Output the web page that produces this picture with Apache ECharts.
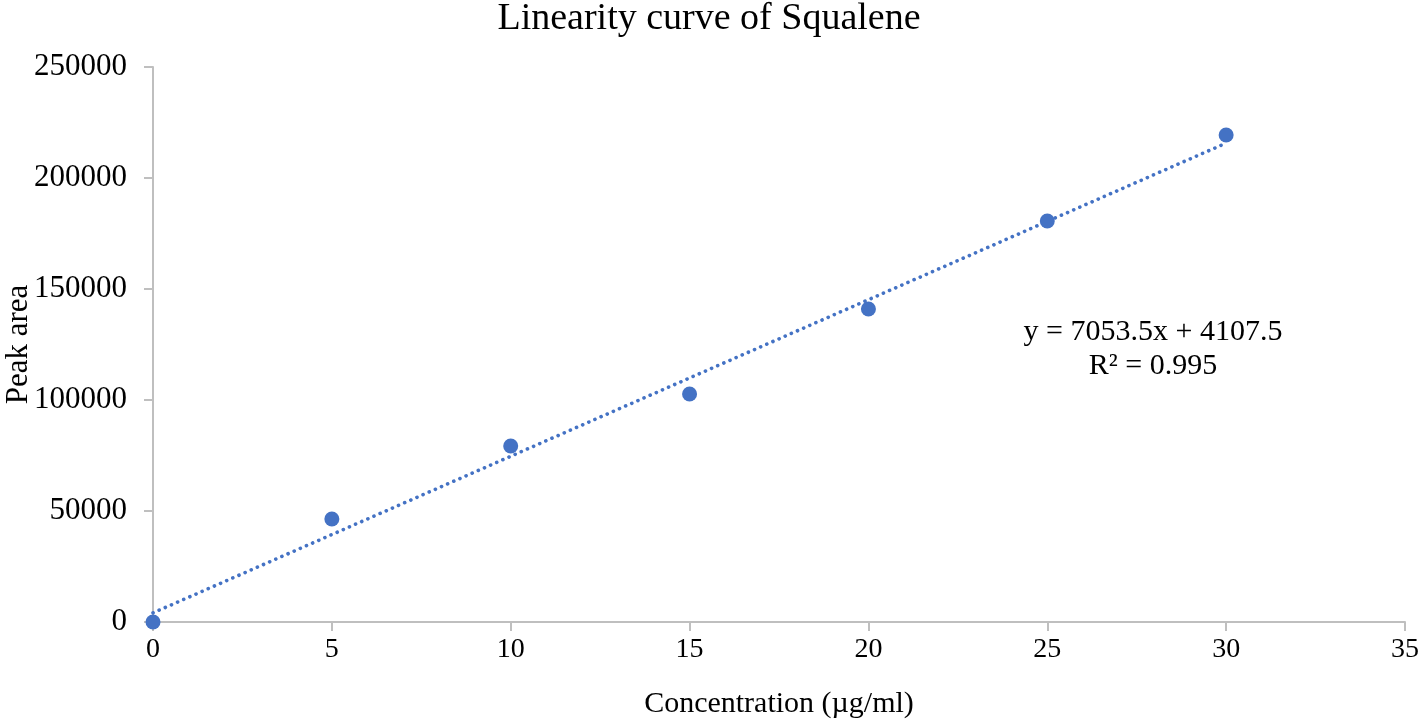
<!DOCTYPE html>
<html>
<head>
<meta charset="utf-8">
<script src="https://cdn.jsdelivr.net/npm/echarts@6/dist/echarts.min.js"></script>
<style>
  html, body { margin: 0; padding: 0; background: #fff; }
  #main { width: 1418px; height: 719px; }
</style>
</head>
<body>
<div id="main"></div>
<script>
// concentration (µg/ml) and measured peak area
var concentration = [0, 5, 10, 15, 20, 25, 30];
var peakArea = [0, 46400, 79300, 102700, 141000, 180600, 219400];

// linear trendline endpoints (y = 7053.5x + 4107.5)
var trendX = [0, 30];
var trendY = [4107.5, 215712.5];

var equationText = 'y = 7053.5x + 4107.5\nR² = 0.995';

var chartDom = document.getElementById('main');
var myChart = echarts.init(chartDom);
var option;

var serif = '"Liberation Serif", "Times New Roman", serif';
var blue = '#4472C4';

option = {
    animation: false,
    textStyle: { fontFamily: serif },
    title: {
        text: 'Linearity curve of Squalene',
        left: 'center',
        top: -5,
        textStyle: { fontFamily: serif, fontSize: 38, fontWeight: 'normal', color: '#000' }
    },
    grid: { left: 153, right: 13, top: 67, bottom: 97, outerBoundsMode: 'none' },
    xAxis: {
        type: 'value',
        min: 0,
        max: 35,
        interval: 5,
        name: 'Concentration (µg/ml)',
        nameLocation: 'middle',
        nameGap: 67,
        nameTextStyle: { fontFamily: serif, fontSize: 30, color: '#000' },
        axisLine: { lineStyle: { color: '#BFBFBF', width: 2 } },
        axisTick: { show: true, length: 9, lineStyle: { color: '#BFBFBF', width: 2 } },
        axisLabel: { fontFamily: serif, fontSize: 28, color: '#000', margin: 14 },
        splitLine: { show: false }
    },
    yAxis: {
        type: 'value',
        min: 0,
        max: 250000,
        interval: 50000,
        name: 'Peak area',
        nameLocation: 'middle',
        nameGap: 119,
        nameMoveOverlap: false,
        nameTextStyle: { fontFamily: serif, fontSize: 31, color: '#000' },
        axisLine: { show: true, lineStyle: { color: '#BFBFBF', width: 2 } },
        axisTick: { show: true, length: 9, lineStyle: { color: '#BFBFBF', width: 2 } },
        axisLabel: {
            fontFamily: serif, fontSize: 31, color: '#000', margin: 26,
            formatter: function (v) { return String(v); }
        },
        splitLine: { show: false }
    },
    graphic: [
        {
            type: 'text',
            x: 1153,
            y: 349,
            style: {
                text: equationText,
                font: '30px ' + serif,
                fill: '#000',
                align: 'center',
                verticalAlign: 'middle',
                lineHeight: 34
            }
        }
    ],
    series: [
        {
            name: 'Trendline',
            type: 'line',
            data: trendX.map(function (x, i) { return [x, trendY[i]]; }),
            symbol: 'none',
            lineStyle: { color: blue, width: 3.6, type: [0.1, 6.6], cap: 'round' },
            z: 2
        },
        {
            name: 'Peak area',
            type: 'scatter',
            data: concentration.map(function (x, i) { return [x, peakArea[i]]; }),
            symbolSize: 15,
            itemStyle: { color: blue, opacity: 1 },
            z: 3
        }
    ]
};

option && myChart.setOption(option);
</script>
</body>
</html>
